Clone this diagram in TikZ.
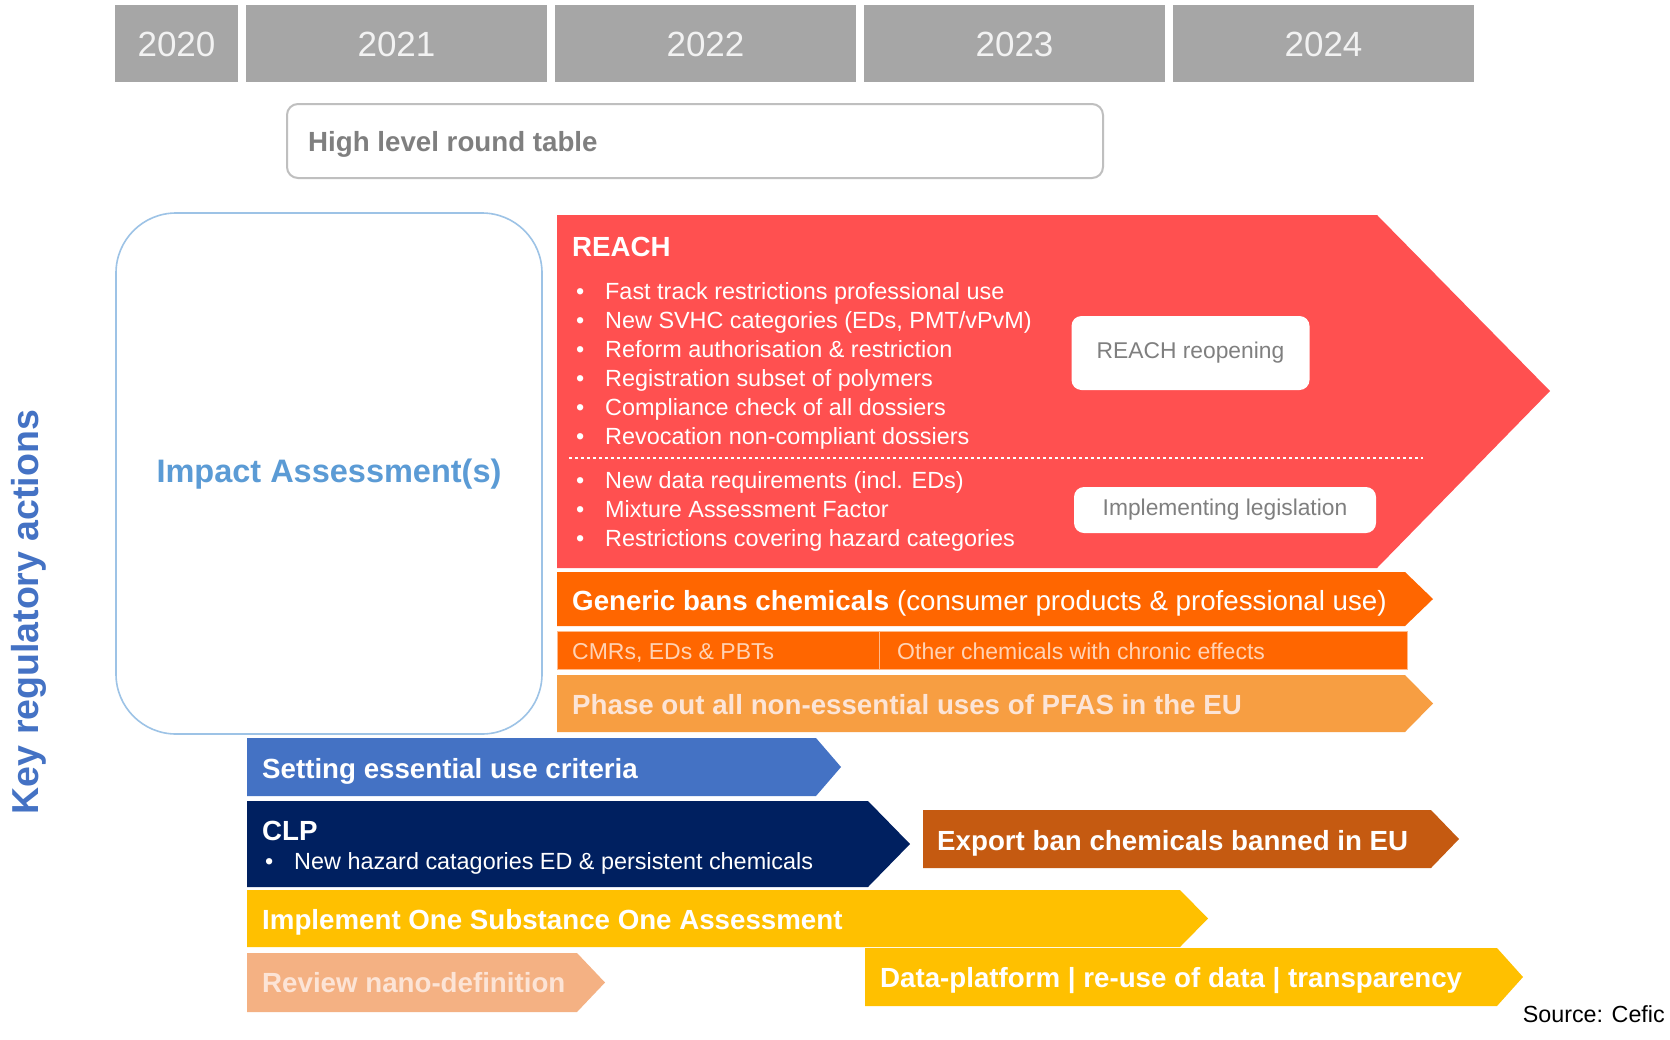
\documentclass[tikz,border=0pt]{standalone}
\usepackage{fontspec}
\setmainfont{Liberation Sans}
\usetikzlibrary{positioning}

\definecolor{yeargray}{HTML}{A6A6A6}
\definecolor{yeartext}{HTML}{F2F2F2}
\definecolor{framegray}{HTML}{BFBFBF}
\definecolor{labelgray}{HTML}{7F7F7F}
\definecolor{iaframe}{HTML}{9DC3E6}
\definecolor{iatext}{HTML}{5B9BD5}
\definecolor{krablue}{HTML}{4472C4}
\definecolor{reachred}{HTML}{FF5050}
\definecolor{banorange}{HTML}{FF6600}
\definecolor{pfasorange}{HTML}{F79E42}
\definecolor{essblue}{HTML}{4472C4}
\definecolor{clpnavy}{HTML}{002060}
\definecolor{exportbrown}{HTML}{C55A11}
\definecolor{osoagold}{HTML}{FFC000}
\definecolor{nanosalmon}{HTML}{F4B183}
\definecolor{paletext}{HTML}{FCE4D6}
\definecolor{celltext}{HTML}{FFD3B5}

% bar with a pointed end: colour, x0, y0, shoulder x, tip x, y1
\newcommand{\chev}[6]{%
  \fill[#1] (#2,#3) -- (#4,#3) -- (#5,{(#3+#6)/2}) -- (#4,#6) -- (#2,#6) -- cycle;}

\tikzset{
  yearlbl/.style={text=yeartext, inner sep=0pt, font=\fontsize{35}{35}\selectfont},
  bigtxt/.style={anchor=west, inner sep=0pt, text=white, text height=20pt, text depth=0pt,
    font=\fontsize{27.7}{30}\selectfont\bfseries},
  item/.style={anchor=west, inner sep=0pt, text=white, text height=17pt, text depth=0pt,
    font=\fontsize{23.4}{29}\selectfont},
  celltxt/.style={item, text=celltext, font=\fontsize{23}{29}\selectfont},
  tag/.style={fill=white, rounded corners=10pt, text=labelgray, inner sep=0pt,
    font=\fontsize{22.8}{25}\selectfont},
}

\begin{document}
\begin{tikzpicture}[x=1pt,y=-1pt]
\useasboundingbox[fill=white] (0,0) rectangle (1670,1039);

% years
\foreach \yr/\xa/\xb in {2020/115/238,2021/246/547,2022/555/856,2023/864/1165,2024/1173/1474}{
  \fill[yeargray] (\xa,5) rectangle (\xb,82);
  \node[yearlbl] (y\yr) at ({(\xa+\xb)/2},44) {\yr};
}

% round table
\draw[framegray, line width=2pt, rounded corners=11pt] (287,104) rectangle (1103,178);
\node[bigtxt, text=labelgray] (hlrt) at (308,141) {High level round table};

% impact assessment and side title
\draw[iaframe, line width=1.6pt, rounded corners=60pt] (116,213) rectangle (542,734);
\node[text=iatext, inner sep=0pt, font=\fontsize{32.5}{34}\selectfont\bfseries] (ia) at (329,474) {Impact Assessment(s)};
\node[text=krablue, inner sep=0pt, rotate=90, font=\fontsize{37.5}{40}\selectfont\bfseries] (kra) at (29,612) {Key regulatory actions};

% REACH
\fill[reachred] (557,215) -- (1377,215) -- (1550,391) -- (1377,568) -- (557,568) -- cycle;
\node[bigtxt] (reach) at (572,246) {REACH};
\foreach \txt [count=\i] in {Fast track restrictions professional use,
    {New SVHC categories (EDs, PMT/vPvM)},
    Reform authorisation \& restriction,
    Registration subset of polymers,
    Compliance check of all dossiers,
    Revocation non-compliant dossiers}{
  \node[item] (reach\i) at (576,{262+29*\i}) {\makebox[29pt][l]{\textbullet}\txt};
}
\draw[white, line width=1.6pt, dash pattern=on 3pt off 3pt] (569,458) -- (1423,458);
\foreach \txt [count=\i] in {New data requirements (incl. EDs),
    Mixture Assessment Factor,
    Restrictions covering hazard categories}{
  \node[item] (impl\i) at (576,{451+29*\i}) {\makebox[29pt][l]{\textbullet}\txt};
}
\node[tag, minimum width=238pt, minimum height=74pt] (reopen) at (1190.5,353) {REACH reopening};
\node[tag, minimum width=302pt, minimum height=46pt] (implleg) at (1225,510) {Implementing legislation};

% generic bans
\chev{banorange}{557}{572}{1405}{1433}{626}
\node[bigtxt] (bans) at (572,600) {Generic bans chemicals {\mdseries(consumer products \& professional use)}};
\fill[banorange] (557,631) rectangle (1407,669);
\draw[white!55!banorange, line width=1pt] (557,631) rectangle (879,669) (879,631) rectangle (1407,669);
\node[celltxt] (cmr) at (572,651) {CMRs, EDs \& PBTs};
\node[celltxt] (other) at (897,651) {Other chemicals with chronic effects};

% PFAS
\chev{pfasorange}{557}{675}{1405}{1433}{732}
\node[bigtxt, text=paletext] (pfas) at (572,704) {Phase out all non-essential uses of PFAS in the EU};

% lower bars
\chev{essblue}{247}{738}{816}{841}{796}
\node[bigtxt] (ess) at (262,768) {Setting essential use criteria};
\chev{clpnavy}{247}{801}{868}{910}{887}
\node[bigtxt] (clp) at (262,830) {CLP};
\node[item] (clp1) at (265,861) {\makebox[29pt][l]{\textbullet}New hazard catagories ED \& persistent chemicals};
\chev{exportbrown}{923}{810}{1431}{1459}{868}
\node[bigtxt] (export) at (937,840) {Export ban chemicals banned in EU};
\chev{osoagold}{247}{890}{1180}{1208}{947}
\node[bigtxt] (osoa) at (262,919) {Implement One Substance One Assessment};
\chev{nanosalmon}{247}{953}{577}{605}{1012}
\node[bigtxt, text=paletext] (nano) at (262,982) {Review nano-definition};
\chev{osoagold}{865}{948}{1497}{1523}{1006}
\node[bigtxt] (data) at (880,977) {Data-platform | re-use of data | transparency};

\node[anchor=east, inner sep=0pt, font=\fontsize{23.3}{25}\selectfont] (src) at (1665,1014) {Source: Cefic};
\end{tikzpicture}
\end{document}
